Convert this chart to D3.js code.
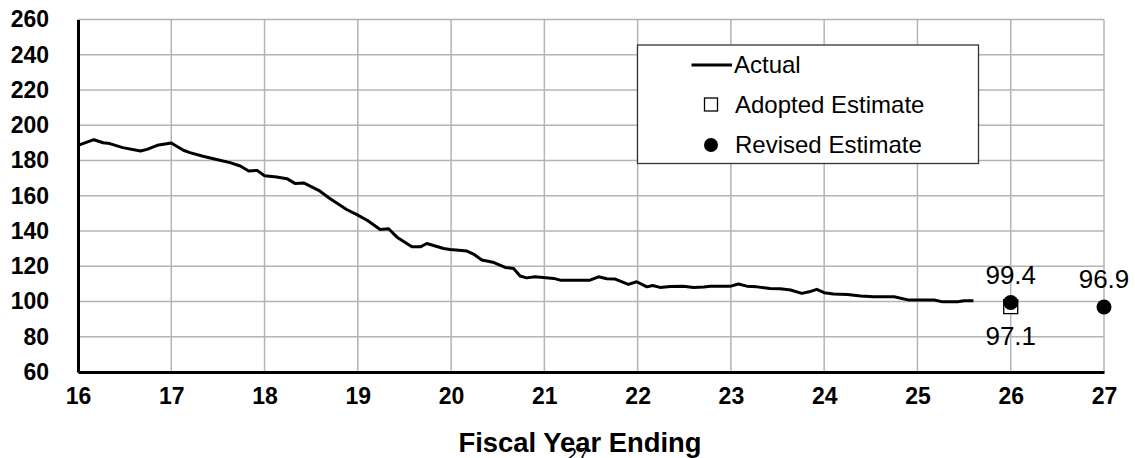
<!DOCTYPE html>
<html>
<head>
<meta charset="utf-8">
<script src="https://cdn.jsdelivr.net/npm/d3@7"></script>
<style>
  html, body { margin: 0; padding: 0; background: #fff; }
  svg { display: block; font-family: Arial, "Liberation Sans", sans-serif; }
</style>
</head>
<body>
<svg id="chart" width="1135" height="458"></svg>
<script>
// ---- data ----
const actualYears = [16.0,16.17,16.27,16.34,16.48,16.67,16.74,16.85,17.0,17.13,17.2,17.34,17.52,17.63,17.74,17.83,17.92,18.0,18.13,18.24,18.33,18.42,18.58,18.70,18.88,18.99,19.10,19.24,19.33,19.42,19.58,19.67,19.74,19.92,19.99,20.17,20.24,20.33,20.46,20.58,20.67,20.74,20.81,20.90,21.10,21.17,21.49,21.58,21.67,21.76,21.90,21.99,22.10,22.16,22.24,22.35,22.49,22.60,22.71,22.78,23.0,23.08,23.17,23.28,23.42,23.53,23.64,23.76,23.84,23.92,24.0,24.10,24.25,24.39,24.53,24.75,24.91,25.0,25.18,25.27,25.43,25.50,25.60];
const actualValues = [188.6,191.8,190.1,189.6,187.3,185.4,186.3,188.6,189.9,185.8,184.5,182.4,180.1,178.8,176.9,174.0,174.4,171.3,170.6,169.7,166.9,167.3,163.1,158.4,152.2,149.3,146.1,140.8,141.3,136.5,131.0,131.0,132.9,130.1,129.5,128.6,126.9,123.5,122.1,119.3,118.7,114.5,113.4,114.0,113.1,112.1,112.1,114.0,112.9,112.7,109.7,111.2,108.3,109.1,108.0,108.5,108.7,108.0,108.2,108.7,108.7,109.9,108.7,108.3,107.4,107.2,106.5,104.6,105.5,106.9,105.0,104.2,104.0,103.1,102.7,102.7,100.8,100.8,100.8,99.8,99.8,100.4,100.4];
const estimateYears = [26, 27];
const adoptedValues = [97.1, null];
const revisedValues = [99.4, 96.9];
const xTicks = [16,17,18,19,20,21,22,23,24,25,26,27];
const yTicks = [60,80,100,120,140,160,180,200,220,240,260];
const legendLabels = ["Actual", "Adopted Estimate", "Revised Estimate"];
const xTitle = "Fiscal Year Ending";
const pageNumber = "27";

// ---- layout ----
const svg = d3.select("#chart");
const m = { left: 78, right: 1104, top: 19.5, bottom: 372 };
const x = d3.scaleLinear().domain([16, 27]).range([m.left, m.right]);
const y = d3.scaleLinear().domain([60, 260]).range([m.bottom, m.top]);

// gridlines
const grid = svg.append("g").attr("stroke", "#b4b4b4").attr("stroke-width", 1.5);
grid.selectAll("line.h").data(yTicks).join("line")
  .attr("x1", m.left).attr("x2", m.right)
  .attr("y1", d => y(d)).attr("y2", d => y(d));
grid.selectAll("line.v").data(xTicks).join("line")
  .attr("y1", m.top).attr("y2", m.bottom)
  .attr("x1", d => x(d)).attr("x2", d => x(d));

// axes
const yAxis = d3.axisLeft(y).tickValues(yTicks).tickSize(0).tickPadding(29);
const gy = svg.append("g").attr("transform", `translate(${m.left},0)`).call(yAxis);
gy.select(".domain").attr("stroke", "#000").attr("stroke-width", 3);
gy.selectAll("text").attr("font-size", 23).attr("font-weight", "bold").attr("fill", "#000")
  .attr("font-family", "Arial, 'Liberation Sans', sans-serif");

const xAxis = d3.axisBottom(x).tickValues(xTicks).tickFormat(d3.format("d")).tickSize(0).tickPadding(16);
const gx = svg.append("g").attr("transform", `translate(0,${m.bottom})`).call(xAxis);
gx.select(".domain").attr("stroke", "#000").attr("stroke-width", 3);
gx.selectAll("text").attr("font-size", 23).attr("font-weight", "bold").attr("fill", "#000")
  .attr("font-family", "Arial, 'Liberation Sans', sans-serif");

// actual line
const actual = actualYears.map((yr, i) => ({ x: yr, v: actualValues[i] }));
svg.append("path").datum(actual)
  .attr("fill", "none").attr("stroke", "#000").attr("stroke-width", 3)
  .attr("stroke-linejoin", "round")
  .attr("d", d3.line().x(d => x(d.x)).y(d => y(d.v)));

// adopted estimate squares
const adopted = estimateYears.map((yr, i) => ({ x: yr, v: adoptedValues[i] })).filter(d => d.v != null);
svg.selectAll("rect.adopted").data(adopted).join("rect")
  .attr("x", d => x(d.x) - 7).attr("y", d => y(d.v) - 7)
  .attr("width", 14).attr("height", 14)
  .attr("fill", "#fff").attr("stroke", "#000").attr("stroke-width", 1.3);

// revised estimate dots
const revised = estimateYears.map((yr, i) => ({ x: yr, v: revisedValues[i] })).filter(d => d.v != null);
svg.selectAll("circle.revised").data(revised).join("circle")
  .attr("cx", d => x(d.x)).attr("cy", d => y(d.v)).attr("r", 7.5).attr("fill", "#000");

// value labels
svg.selectAll("text.rev").data(revised).join("text")
  .attr("x", d => x(d.x)).attr("y", d => y(d.v) - 19)
  .attr("text-anchor", "middle").attr("font-size", 26).attr("fill", "#000")
  .text(d => d.v.toFixed(1));
svg.selectAll("text.adp").data(adopted).join("text")
  .attr("x", d => x(d.x)).attr("y", d => y(d.v) + 38.5)
  .attr("text-anchor", "middle").attr("font-size", 26).attr("fill", "#000")
  .text(d => d.v.toFixed(1));

// legend
const lg = svg.append("g");
lg.append("rect").attr("x", 637.5).attr("y", 45).attr("width", 341).attr("height", 118.5)
  .attr("fill", "#fff").attr("stroke", "#333").attr("stroke-width", 1.3);
lg.append("line").attr("x1", 691.5).attr("x2", 732).attr("y1", 65).attr("y2", 65)
  .attr("stroke", "#000").attr("stroke-width", 3);
lg.append("rect").attr("x", 704.5).attr("y", 98).attr("width", 13).attr("height", 13)
  .attr("fill", "#fff").attr("stroke", "#000").attr("stroke-width", 1.3);
lg.append("circle").attr("cx", 711).attr("cy", 145).attr("r", 7).attr("fill", "#000");
const legendY = [73, 113, 153];
lg.selectAll("text").data(legendLabels).join("text")
  .attr("x", (d, i) => i === 0 ? 734 : 735).attr("y", (d, i) => legendY[i])
  .attr("font-size", 24).attr("fill", "#000").text(d => d);

// axis title
svg.append("text").attr("x", 580).attr("y", 452).attr("text-anchor", "middle")
  .attr("font-size", 27.4).attr("font-weight", "bold").attr("fill", "#000").text(xTitle);
// page number overlapping the title
svg.append("text").attr("x", 577).attr("y", 462).attr("text-anchor", "middle")
  .attr("font-size", 20.5).attr("fill", "#000").text(pageNumber);
</script>
</body>
</html>
